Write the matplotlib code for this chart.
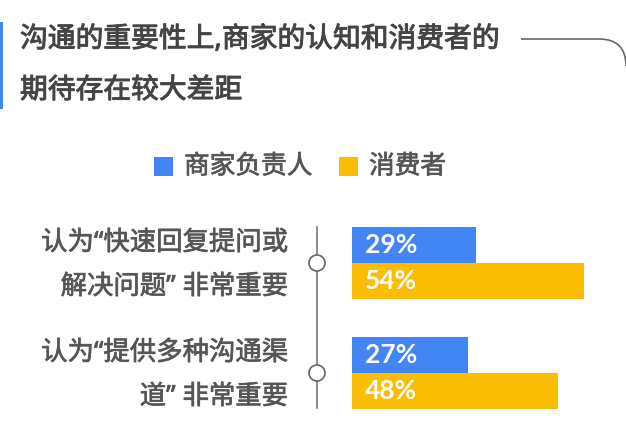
import matplotlib
matplotlib.use('Agg')
import matplotlib.pyplot as plt
import matplotlib.patheffects as pe
from matplotlib.patches import Rectangle, Circle, PathPatch
from matplotlib.path import Path

plt.rcParams['font.family'] = ['Noto Sans', 'Noto Sans CJK SC', 'DejaVu Sans']

title_lines = ['沟通的重要性上,商家的认知和消费者的', '期待存在较大差距']
series = ['商家负责人', '消费者']
colors = ['#4285F4', '#FBBC04']
label_lines = [['认为“快速回复提问或', '解决问题” 非常重要'],
               ['认为“提供多种沟通渠', '道” 非常重要']]
merchant = [29, 27]
consumer = [54, 48]

W, H = 626, 425
fig = plt.figure(figsize=(W / 100, H / 100), dpi=100)

def heavy(c, w=0.5):
    return [pe.withStroke(linewidth=w, foreground=c)]

# overlay in pixel units for title, legend, timeline
ov = fig.add_axes([0, 0, 1, 1])
ov.set_xlim(0, W)
ov.set_ylim(H, 0)
ov.axis('off')

ov.add_patch(Rectangle((0, 22), 3, 87, color='#4285F4', lw=0))
for ty, line in zip([40, 91], title_lines):
    ov.text(20, ty, line, fontsize=20, color='#444444', va='center', ha='left',
            path_effects=heavy('#444444', 0.7))
path = Path([(521, 39), (599, 39), (626, 39), (626, 66)],
            [Path.MOVETO, Path.LINETO, Path.CURVE3, Path.CURVE3])
ov.add_patch(PathPatch(path, fill=False, edgecolor='#666666', lw=1.2, clip_on=False))

# legend
leg_x = [154, 339]
for name, c, x0 in zip(series, colors, leg_x):
    ov.add_patch(Rectangle((x0, 157), 19, 19, color=c, lw=0))
    ov.text(x0 + 30, 167, name, fontsize=18.5, color='#555555', va='center', ha='left',
            path_effects=heavy('#555555'))

# timeline
ov.plot([317, 317], [227, 408], color='#777777', lw=1.2)
group_y = [263, 373]
for gy, lines in zip(group_y, label_lines):
    ov.add_patch(Circle((317, gy), 8, facecolor='white', edgecolor='#666666', lw=1.2, zorder=3))
    ov.text(288, gy - 20, lines[0], fontsize=19, color='#555555', va='center', ha='right',
            path_effects=heavy('#555555'))
    ov.text(288, gy + 24, lines[1], fontsize=19, color='#555555', va='center', ha='right',
            path_effects=heavy('#555555'))

# bars
px_per = 4.29
ax = fig.add_axes([352 / W, (H - 420) / H, (W - 352) / W, (420 - 215) / H])
ax.set_xlim(0, (W - 352) / px_per)
ax.set_ylim((420 - 263) / 110, (215 - 263) / 110)
ax.axis('off')
h = 36 / 110
ys = range(len(merchant))
for vals, c, off in [(merchant, colors[0], -h / 2), (consumer, colors[1], h / 2)]:
    pos = [y + off for y in ys]
    ax.barh(pos, vals, height=h, color=c, lw=0)
    for p, v in zip(pos, vals):
        ax.annotate(f'{v}%', (0, p), xytext=(9.4, 0), textcoords='offset points',
                    va='center', ha='left', color='white', fontsize=19,
                    fontweight='bold', family=['Lato', 'DejaVu Sans'])

fig.savefig('out.png', dpi=100)
